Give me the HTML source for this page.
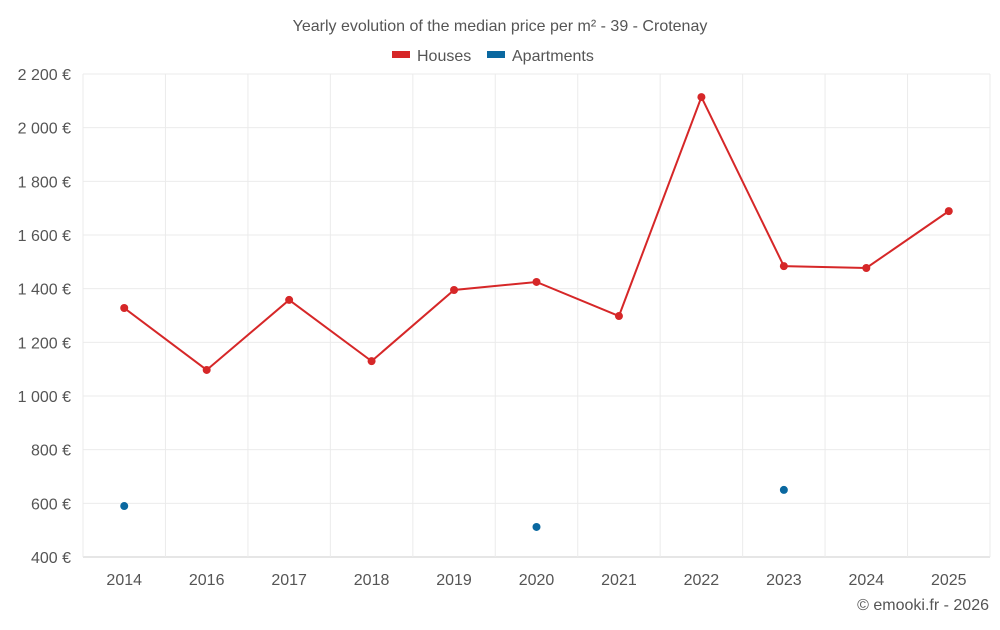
<!DOCTYPE html>
<html><head><meta charset="utf-8"><style>
body{margin:0;background:#fff;font-family:"Liberation Sans",sans-serif;}
svg text{font-family:"Liberation Sans",sans-serif;fill:#555;}
</style></head><body>
<svg id="chart" width="1000" height="625">
<text x="500" y="31" text-anchor="middle" font-size="16">Yearly evolution of the median price per m² - 39 - Crotenay</text>
<g>
<g><rect x="392" y="51" width="18" height="7" fill="#d62728"/><text x="417" y="61" font-size="16">Houses</text></g>
<g><rect x="487" y="51" width="18" height="7" fill="#0a68a0"/><text x="512" y="61" font-size="16">Apartments</text></g>
</g>
<g id="grid"></g><g id="axes"></g><g id="marks"></g>
<text x="989" y="610" text-anchor="end" font-size="16">© emooki.fr - 2026</text>
</svg>
<script>
const categories=["2014","2016","2017","2018","2019","2020","2021","2022","2023","2024","2025"];
const houses=[1328,1097,1358,1130,1395,1425,1298,2114,1484,1477,1689];
const apartments=[590,null,null,null,null,512,null,null,650,null,null];
const yTicks=[400,600,800,1000,1200,1400,1600,1800,2000,2200];
const yTickLabels=["400 €","600 €","800 €","1 000 €","1 200 €","1 400 €","1 600 €","1 800 €","2 000 €","2 200 €"];
const NS="http://www.w3.org/2000/svg";
const L=83,R=990,T=74,B=557,yMin=400,yMax=2200;
const bw=(R-L)/categories.length;
const x=i=>L+bw*(i+0.5);
const y=v=>B-(v-yMin)/(yMax-yMin)*(B-T);
function mk(tag,attrs,parent){const e=document.createElementNS(NS,tag);for(const k in attrs)e.setAttribute(k,attrs[k]);document.getElementById(parent).appendChild(e);return e;}
yTicks.forEach((t,i)=>{
 const g=mk("line",{x1:L,x2:R,y1:y(t),y2:y(t),stroke:i==0?"#ccc":"#ebebeb","stroke-width":1},"grid");
 
 
 const tx=mk("text",{x:L-12,y:y(t)+6,"text-anchor":"end","font-size":16},"axes");
 tx.textContent=yTickLabels[i];
 
 
});
for(let i=0;i<=categories.length;i++){
 const g=mk("line",{x1:L+bw*i,x2:L+bw*i,y1:T,y2:B,stroke:"#ebebeb","stroke-width":1},"grid");
 
 
}
categories.forEach((c,i)=>{
 const tx=mk("text",{x:x(i),y:585,"text-anchor":"middle","font-size":16},"axes");
 tx.textContent=c;
 
 
});
const line=mk("polyline",{points:houses.map((v,i)=>x(i)+","+y(v)).join(" "),fill:"none",stroke:"#d62728","stroke-width":2},"marks");


houses.forEach((v,i)=>{
 const p=mk("circle",{cx:x(i),cy:y(v),r:4,fill:"#d62728"},"marks");
 
 
});
apartments.forEach((v,i)=>{
 if(v==null)return;
 const p=mk("circle",{cx:x(i),cy:y(v),r:4,fill:"#0a68a0"},"marks");
 
 
});
</script>
</body></html>
